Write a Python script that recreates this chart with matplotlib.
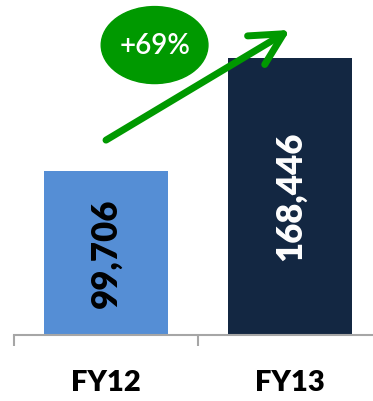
import matplotlib.pyplot as plt
from matplotlib.patches import Ellipse

plt.rcParams['font.family'] = ['Lato', 'DejaVu Sans']

years = ["FY12", "FY13"]
revenue = [99706, 168446]
bar_colors = ["#558ed5", "#132742"]
label_colors = ["black", "white"]
growth = "+69%"

fig = plt.figure(figsize=(3.73, 4.01), dpi=100)
ax = fig.add_axes([14 / 373, 66 / 401, 368 / 373, 335 / 401])

x = range(len(years))
ax.bar(x, revenue, width=0.67, color=bar_colors)
ax.set_xlim(-0.5, 1.5)
ax.set_ylim(0, 203700)

for i, v in enumerate(revenue):
    ax.text(i, v / 2, f"{v:,}", rotation=90, ha="center", va="center",
            fontsize=25, fontweight="heavy", color=label_colors[i])

# growth arrow and bubble
green = "#009900"
ax.annotate("", xy=(1.0, 185500), xytext=(0.0, 118500),
            arrowprops=dict(arrowstyle="->,head_length=2.3,head_width=1.2",
                            mutation_scale=10, lw=5, color=green,
                            shrinkA=0, shrinkB=0, capstyle="round"))
ax.add_patch(Ellipse((0.264, 176300), 0.58, 46800, color=green, zorder=3))
ax.text(0.264, 175800, growth, ha="center", va="center", fontsize=20,
        fontweight="semibold", color="white", zorder=4)

for s in ["top", "right", "left"]:
    ax.spines[s].set_visible(False)
ax.spines["bottom"].set_color("#a6a6a6")
ax.spines["bottom"].set_linewidth(1.5)
ax.set_yticks([])
ax.set_xticks([-0.5, 0.5, 1.5])
ax.set_xticklabels([])
ax.tick_params(axis="x", which="major", length=8, width=1.5, color="#a6a6a6")
ax.set_xticks(list(x), minor=True)
ax.set_xticklabels(years, minor=True, fontsize=21, fontweight="heavy")
ax.tick_params(axis="x", which="minor", length=0, pad=25)

fig.savefig("out.png", dpi=100)
